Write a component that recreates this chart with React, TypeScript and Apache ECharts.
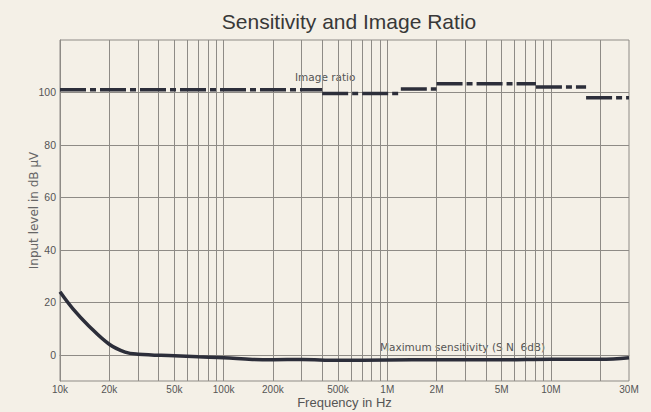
import React, { useEffect, useRef } from "react";
import * as echarts from "echarts";

const gridFreqs = [
  20e3, 30e3, 40e3, 50e3, 60e3, 70e3, 80e3, 90e3, 100e3,
  200e3, 300e3, 400e3, 500e3, 600e3, 700e3, 800e3, 900e3, 1e6,
  2e6, 3e6, 4e6, 5e6, 6e6, 7e6, 8e6, 9e6, 10e6, 20e6,
];
const labelFreqs = [10e3, 20e3, 50e3, 100e3, 200e3, 500e3, 1e6, 2e6, 5e6, 10e6, 30e6];
const labelTexts = ["10k", "20k", "50k", "100k", "200k", "500k", "1M", "2M", "5M", "10M", "30M"];
const yTicks = [0, 20, 40, 60, 80, 100];

const sensFreqs = [10e3, 12e3, 15e3, 20e3, 25e3, 30e3, 50e3, 70e3, 100e3, 150e3, 200e3, 300e3, 500e3, 1e6, 2e6, 5e6, 10e6, 20e6, 30e6];
const sensValues = [24, 17.5, 11, 4, 1, 0.2, -0.4, -0.8, -1.1, -1.8, -1.9, -1.8, -2.1, -2, -1.9, -1.9, -1.7, -1.7, -1.1];

const ratioBreaks = [10e3, 400e3, 1.21e6, 2e6, 8.1e6, 16.4e6, 30e6];
const ratioValues = [101, 99.6, 101.3, 103.3, 102.1, 98];

export default function App() {
  const ref = useRef<HTMLDivElement>(null);
  useEffect(() => {
    if (!ref.current) return;
    const chart = echarts.init(ref.current, null, { renderer: "svg" });
    const ratioData: any[] = [];
    ratioValues.forEach((v, i) => {
      if (i > 0) ratioData.push([ratioBreaks[i], "-"]);
      ratioData.push([ratioBreaks[i], v]);
      ratioData.push([ratioBreaks[i + 1], v]);
    });
    const font = "Liberation Sans";
    const annFont = "DejaVu Sans";
    const gridColor = "#8e8b86";
    chart.setOption({
      animation: false,
      backgroundColor: "#f4f0e7",
      textStyle: { fontFamily: font },
      title: {
        text: "Sensitivity and Image Ratio",
        left: 344,
        textAlign: "center",
        top: 6,
        textStyle: { fontSize: 21, fontWeight: "normal", color: "#383838", fontFamily: font },
      },
      grid: {
        left: 60,
        right: 22,
        top: 40,
        bottom: 31,
        show: true,
        borderColor: gridColor,
        borderWidth: 1,
        containLabel: false,
        outerBoundsMode: "none",
      },
      xAxis: {
        type: "log",
        logBase: 10,
        min: 10e3,
        max: 30e6,
        name: "Frequency in Hz",
        nameLocation: "middle",
        nameGap: 15,
        nameMoveOverlap: false,
        nameTextStyle: { fontSize: 13, color: "#555", fontFamily: font },
        axisLine: { show: true, lineStyle: { color: gridColor } },
        axisTick: { show: false, customValues: gridFreqs },
        axisLabel: {
          customValues: labelFreqs,
          fontSize: 10,
          color: "#555",
          margin: 3,
          formatter: (v: number) => {
            const i = labelFreqs.findIndex((f) => Math.abs(f - v) / f < 1e-6);
            return i >= 0 ? labelTexts[i] : "";
          },
        },
        splitLine: { show: true, lineStyle: { color: gridColor, width: 1 } },
      },
      yAxis: {
        type: "value",
        min: -10,
        max: 120,
        name: "Input level in dB \u03bcV",
        nameLocation: "middle",
        nameGap: 20,
        nameMoveOverlap: false,
        nameTextStyle: { fontSize: 12, color: "#666", fontFamily: annFont },
        axisLine: { show: true, lineStyle: { color: gridColor } },
        axisTick: { show: false, customValues: yTicks },
        axisLabel: { customValues: yTicks, fontSize: 10.5, color: "#555", margin: 4 },
        splitLine: { show: true, lineStyle: { color: gridColor, width: 1 } },
      },
      graphic: [
        {
          type: "text",
          left: 295,
          top: 71,
          style: { text: "Image ratio", fontSize: 10.5, fill: "#555", fontFamily: annFont },
        },
        {
          type: "text",
          left: 380,
          top: 341,
          style: { text: "Maximum sensitivity (S N  6dB)", fontSize: 10.5, fill: "#555", fontFamily: annFont },
        },
      ],
      series: [
        {
          type: "line",
          data: sensFreqs.map((f, i) => [f, sensValues[i]]),
          smooth: 0.4,
          symbol: "none",
          lineStyle: { color: "#2c2e3a", width: 3.5 },
        },
        {
          type: "line",
          data: ratioData,
          connectNulls: false,
          symbol: "none",
          lineStyle: { color: "#2c2e3a", width: 3.5, type: [26, 4, 6, 4] },
        },
      ],
    });
    return () => chart.dispose();
  }, []);
  return (
    <div
      ref={ref}
      style={{ position: "fixed", left: 0, top: 0, width: 651, height: 412 }}
    />
  );
}
